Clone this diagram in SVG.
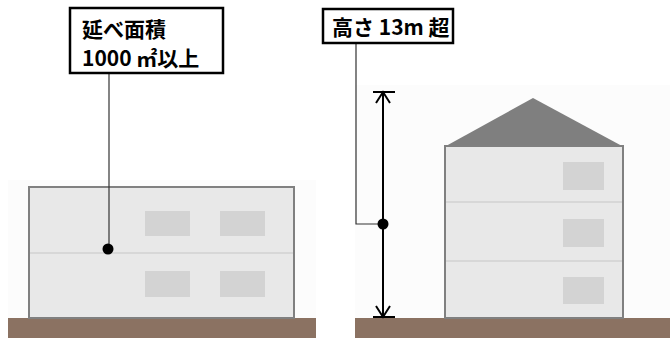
<svg xmlns="http://www.w3.org/2000/svg" width="670" height="338" viewBox="0 0 670 338">
  <defs>
    <style>
      .wall { fill: #e8e8e8; stroke: #808080; stroke-width: 2; }
      .floor { stroke: #d2d2d2; stroke-width: 1.5; fill: none; }
      .win { fill: #d3d3d3; }
      .ground { fill: #8b7262; }
      .roof { fill: #7f7f7f; }
      .label-box { fill: #ffffff; stroke: #000000; stroke-width: 2.5; }
      .label { font-family: "Noto Sans CJK JP", "Liberation Sans", sans-serif; font-weight: bold; font-size: 21px; fill: #000000; }
      .leader { stroke: #333333; stroke-width: 1.2; fill: none; }
      .dim { stroke: #000000; stroke-width: 2; fill: none; }
    </style>
  </defs>
  <rect width="670" height="338" fill="#ffffff"/>

  <!-- faint backdrop behind each building -->
  <rect x="8" y="180" width="308" height="138" fill="#fcfcfc"/>
  <rect x="355" y="85" width="315" height="233" fill="#fcfcfc"/>

  <!-- left: low wide building -->
  <g id="building-wide">
    <rect class="ground" x="8" y="318" width="308" height="20"/>
    <rect class="wall" x="29" y="187" width="265" height="131"/>
    <line class="floor" x1="30" y1="253" x2="293" y2="253"/>
    <rect class="win" x="145" y="211" width="45" height="25"/>
    <rect class="win" x="220" y="211" width="45" height="25"/>
    <rect class="win" x="145" y="271" width="45" height="26"/>
    <rect class="win" x="220" y="271" width="45" height="26"/>
  </g>

  <!-- right: three-storey house with pitched roof -->
  <g id="building-tall">
    <rect class="ground" x="355" y="318" width="315" height="20"/>
    <polygon class="roof" points="446,146 533,98 622,146"/>
    <rect class="wall" x="445" y="146" width="178" height="172"/>
    <line class="floor" x1="446" y1="202" x2="622" y2="202"/>
    <line class="floor" x1="446" y1="261" x2="622" y2="261"/>
    <rect class="win" x="563" y="162" width="41" height="28"/>
    <rect class="win" x="563" y="219" width="41" height="28"/>
    <rect class="win" x="563" y="277" width="41" height="27"/>
  </g>

  <!-- height dimension -->
  <g id="height-dimension">
    <line class="dim" x1="373" y1="92" x2="395" y2="92"/>
    <line class="dim" x1="373" y1="317" x2="395" y2="317"/>
    <line class="dim" x1="383" y1="92" x2="383" y2="317"/>
    <polyline class="dim" points="376,103 383,92 390,103"/>
    <polyline class="dim" points="376,306 383,317 390,306"/>
  </g>

  <!-- connectors -->
  <g id="connectors">
    <line class="leader" x1="109" y1="73" x2="109" y2="249"/>
    <circle cx="108" cy="249" r="5.5" fill="#000000"/>
    <polyline class="leader" points="356,43 356,224 383,224"/>
    <circle cx="383" cy="224" r="5.5" fill="#000000"/>
  </g>

  <!-- labels -->
  <g id="label-floor-area">
    <rect class="label-box" x="70" y="8" width="153" height="65"/>
    <text class="label" x="82" y="37">延べ面積</text>
    <text class="label" x="82" y="66">1000 ㎡以上</text>
  </g>
  <g id="label-height">
    <rect class="label-box" x="323" y="9" width="130" height="34"/>
    <text class="label" x="332" y="35">高さ 13m 超</text>
  </g>
</svg>
